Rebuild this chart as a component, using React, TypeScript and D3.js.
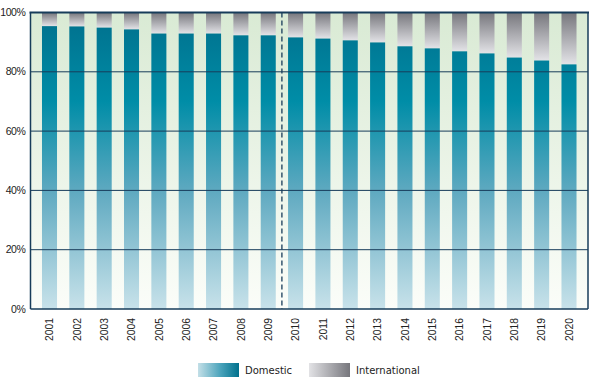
import { useEffect } from 'react';
import * as d3 from 'd3';

const years = ['2001', '2002', '2003', '2004', '2005', '2006', '2007', '2008', '2009', '2010',
  '2011', '2012', '2013', '2014', '2015', '2016', '2017', '2018', '2019', '2020'];

// domestic share in percent, international is the rest
const domestic = [95.4, 95.3, 94.9, 94.3, 92.9, 92.9, 92.9, 92.3, 92.3, 91.6,
  91.2, 90.6, 89.9, 88.6, 87.9, 86.9, 86.2, 84.8, 83.8, 82.5];

const yTicks = [0, 20, 40, 60, 80, 100];
const legendItems = [
  { key: 'Domestic', fill: 'url(#legDom)' },
  { key: 'International', fill: 'url(#legInt)' },
];

const width = 595;
const height = 383;
const margin = { top: 12.5, right: 7, bottom: 74, left: 30.5 };
const navy = '#173c5a';

export default function App() {
  useEffect(() => {
    document.body.style.margin = '0';
  }, []);

  const x = d3.scaleBand<string>()
    .domain(years)
    .range([margin.left, width - margin.right])
    .paddingInner(0.45)
    .paddingOuter(0.42);

  const y = d3.scaleLinear()
    .domain([0, 100])
    .range([height - margin.bottom, margin.top]);

  const plotLeft = margin.left;
  const plotRight = width - margin.right;
  const plotTop = y(100);
  const plotBottom = y(0);
  const splitX = ((x('2009') ?? 0) + x.bandwidth() + (x('2010') ?? 0)) / 2;

  return (
    <svg width={width} height={height} style={{ display: 'block' }}>
      <defs>
        <linearGradient id="bg" x1="0" y1="0" x2="0" y2="1">
          <stop offset="0" stopColor="#d9ead4" />
          <stop offset="1" stopColor="#fbfdf9" />
        </linearGradient>
        <linearGradient id="dom" gradientUnits="userSpaceOnUse" x1="0" y1={plotTop} x2="0" y2={plotBottom}>
          <stop offset="0" stopColor="#006f8c" />
          <stop offset="0.3" stopColor="#008da7" />
          <stop offset="0.6" stopColor="#5ea9c0" />
          <stop offset="1" stopColor="#c8e2ea" />
        </linearGradient>
        <linearGradient id="intl" x1="0" y1="0" x2="0" y2="1">
          <stop offset="0" stopColor="#76767c" />
          <stop offset="1" stopColor="#e3e3e7" />
        </linearGradient>
        <linearGradient id="legDom" x1="0" y1="0" x2="1" y2="0">
          <stop offset="0" stopColor="#c3dfe7" />
          <stop offset="0.55" stopColor="#4aa3bb" />
          <stop offset="1" stopColor="#00718d" />
        </linearGradient>
        <linearGradient id="legInt" x1="0" y1="0" x2="1" y2="0">
          <stop offset="0" stopColor="#e2e2e5" />
          <stop offset="1" stopColor="#76767c" />
        </linearGradient>
      </defs>

      <rect x={plotLeft} y={plotTop} width={plotRight - plotLeft} height={plotBottom - plotTop} fill="url(#bg)" />

      {years.map((yr, i) => (
        <g key={yr}>
          <rect x={x(yr)} y={y(100)} width={x.bandwidth()} height={y(domestic[i]) - y(100)} fill="url(#intl)" />
          <rect x={x(yr)} y={y(domestic[i])} width={x.bandwidth()} height={y(0) - y(domestic[i])} fill="url(#dom)" />
        </g>
      ))}

      {yTicks.filter(t => t > 0 && t < 100).map(t => (
        <line key={t} x1={plotLeft} x2={plotRight} y1={y(t)} y2={y(t)} stroke={navy} strokeWidth={1} />
      ))}

      <line x1={splitX} x2={splitX} y1={plotTop} y2={plotBottom} stroke={navy} strokeWidth={1.3} strokeDasharray="5,3" />

      {/* frame */}
      <line x1={plotLeft - 1} x2={plotRight + 1} y1={plotTop} y2={plotTop} stroke={navy} strokeWidth={2} />
      <line x1={plotLeft} x2={plotLeft} y1={plotTop} y2={plotBottom} stroke={navy} strokeWidth={1.5} />
      <line x1={plotRight} x2={plotRight} y1={plotTop} y2={plotBottom} stroke={navy} strokeWidth={1.5} />
      <line x1={plotLeft} x2={plotRight} y1={plotBottom} y2={plotBottom} stroke={navy} strokeWidth={1.5} />

      {yTicks.map(t => (
        <text key={t} x={plotLeft - 5} y={y(t)} dy="0.35em" textAnchor="end"
          fontFamily="'Liberation Sans', Arial, sans-serif" fontSize={10.5} letterSpacing={-0.4} fill="#222">
          {t}%
        </text>
      ))}

      {years.map(yr => {
        const cx = (x(yr) ?? 0) + x.bandwidth() / 2;
        return (
          <text key={yr} transform={`translate(${cx},${plotBottom + 9}) rotate(-90)`} dy="0.36em" textAnchor="end"
            fontFamily="'Liberation Sans', Arial, sans-serif" fontSize={10.3} fill="#222">
            {yr}
          </text>
        );
      })}

      {legendItems.map((d, i) => (
        <g key={d.key} transform={`translate(${198 + i * 111},363)`}>
          <rect width={41} height={14} fill={d.fill} />
          <text x={47} y={7} dy="0.36em" fontFamily="'DejaVu Sans', sans-serif" fontSize={10} fill="#222">
            {d.key}
          </text>
        </g>
      ))}
    </svg>
  );
}
